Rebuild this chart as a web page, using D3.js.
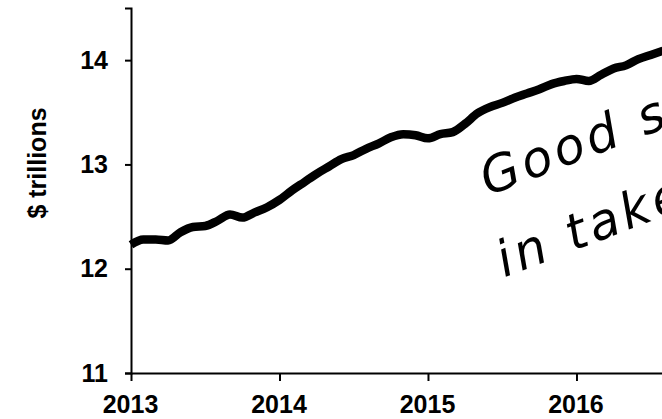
<!DOCTYPE html>
<html>
<head>
<meta charset="utf-8">
<script src="https://cdn.jsdelivr.net/npm/d3@7"></script>
<style>
  html, body { margin: 0; padding: 0; background: #fff; overflow: hidden; }
</style>
</head>
<body>
<div id="chart"></div>
<script>
// monthly values, Jan 2013 onwards ($ trillions)
const startYear = 2013;
const values = [
  12.23, 12.28, 12.28, 12.27, 12.35, 12.40, 12.41, 12.46, 12.52, 12.49, 12.54, 12.59,
  12.66, 12.75, 12.83, 12.91, 12.98, 13.05, 13.09, 13.15, 13.20, 13.26, 13.29, 13.28,
  13.25, 13.29, 13.31, 13.39, 13.49, 13.55, 13.59, 13.64, 13.68, 13.72, 13.77, 13.80,
  13.82, 13.80, 13.86, 13.92, 13.95, 14.01, 14.05, 14.09
];
const xTicks = [2013, 2014, 2015, 2016];
const yTicks = [11, 12, 13, 14];
const noteLines = ["Good s", "in take"];

const W = 662, H = 419;
const margin = { top: 8, right: 0, bottom: 46, left: 131 };

const svg = d3.select("#chart").append("svg")
  .attr("width", W)
  .attr("height", H);

const x = d3.scaleLinear()
  .domain([2013, 2016.576])
  .range([margin.left, W - margin.right]);

const y = d3.scaleLinear()
  .domain([11, 14.5])
  .range([H - margin.bottom, margin.top]);

const data = values.map((v, i) => ({ t: startYear + i / 12, v }));

const labelFont = "'Liberation Sans', Arial, sans-serif";

// Y axis
const yAxis = svg.append("g")
  .attr("transform", `translate(${margin.left},0)`)
  .call(d3.axisLeft(y).tickValues(yTicks).tickSize(6).tickPadding(17).tickFormat(d3.format("d")));
yAxis.select(".domain").attr("stroke", "#000").attr("stroke-width", 2);
yAxis.selectAll(".tick line").attr("stroke", "#000").attr("stroke-width", 2);
yAxis.selectAll("text")
  .attr("fill", "#000")
  .style("font-family", labelFont)
  .style("font-weight", "bold")
  .style("font-size", "25px");

// X axis
const xAxis = svg.append("g")
  .attr("transform", `translate(0,${H - margin.bottom})`)
  .call(d3.axisBottom(x).tickValues(xTicks).tickSize(8).tickSizeOuter(0).tickPadding(14).tickFormat(d3.format("d")));
xAxis.select(".domain").attr("stroke", "#000").attr("stroke-width", 2);
xAxis.selectAll(".tick line").attr("stroke", "#000").attr("stroke-width", 2);
xAxis.selectAll("text")
  .attr("fill", "#000")
  .attr("dx", "-1")
  .style("font-family", labelFont)
  .style("font-weight", "bold")
  .style("font-size", "25px");

// y label
svg.append("text")
  .attr("transform", `translate(46,163) rotate(-90)`)
  .attr("text-anchor", "middle")
  .style("font-family", labelFont)
  .style("font-weight", "bold")
  .style("font-size", "25px")
  .text("$ trillions");

// Line
const line = d3.line()
  .x(d => x(d.t))
  .y(d => y(d.v))
  .curve(d3.curveMonotoneX);

svg.append("path")
  .datum(data)
  .attr("fill", "none")
  .attr("stroke", "#000")
  .attr("stroke-width", 8.5)
  .attr("stroke-linejoin", "round")
  .attr("d", line);

// handwritten note
const note = svg.append("g")
  .attr("transform", "translate(488,196) rotate(-21)")
  .style("font-family", "'DejaVu Sans', sans-serif")
  .style("font-style", "italic")
  .style("font-weight", "200")
  .style("font-size", "50px")
  .attr("fill", "#000");

note.selectAll("text")
  .data(noteLines)
  .enter().append("text")
  .attr("x", (d, i) => i * -14)
  .attr("y", (d, i) => i * 82)
  .attr("letter-spacing", "4")
  .text(d => d);
</script>
</body>
</html>
